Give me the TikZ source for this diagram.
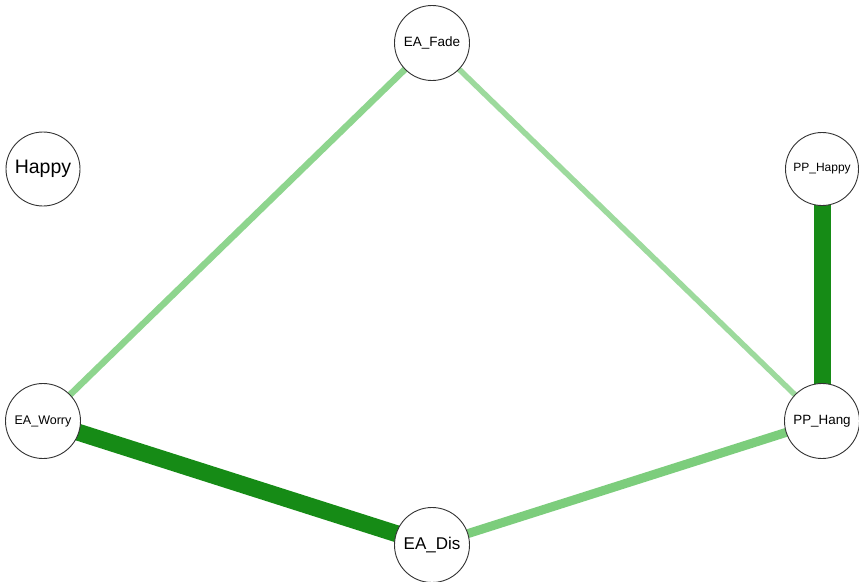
\documentclass[tikz,border=0pt]{standalone}
\usepackage{fontspec}
\setmainfont{Liberation Sans}
\begin{document}
\begin{tikzpicture}[x=1pt,y=-1pt,
  vertex/.style={circle,draw=black!80,line width=0.9pt,fill=white,minimum size=75pt,inner sep=0pt,font=\fontsize{13.5}{15}\selectfont},
  edge/.style={line cap=butt},
  weak/.style={edge,draw=lightgreen,line width=6.5pt},
  mid/.style={edge,draw=midgreen,line width=9pt},
  strong/.style={edge,draw=darkgreen,line width=17pt}]
\definecolor{lightgreen}{HTML}{8ED58E}
\definecolor{palegreen}{HTML}{9DDA9D}
\definecolor{midgreen}{HTML}{7CCD7C}
\definecolor{darkgreen}{HTML}{168B16}
\useasboundingbox (0,0) rectangle (859,581);
\fill[white] (0,0) rectangle (859,581);
% node positions
\coordinate (pFade) at (432,43);
\coordinate (pHappy) at (43,169);
\coordinate (pPPHappy) at (822,169);
\coordinate (pWorry) at (43,421);
\coordinate (pHang) at (822,421);
\coordinate (pDis) at (432,545);
% edges
\draw[weak] (pFade) -- (pWorry);
\draw[weak,draw=palegreen,line width=5.5pt] (pFade) -- (pHang);
\draw[mid] (pDis) -- (pHang);
\draw[strong] (pWorry) -- (pDis);
\draw[strong] (pPPHappy) -- (pHang);
% nodes
\node[vertex] (Fade) at (pFade) {EA\_Fade};
\node[vertex,minimum size=74pt,font=\fontsize{19.5}{21}\selectfont] (Happy) at (pHappy) {Happy};
\node[vertex,minimum size=73pt,font=\fontsize{12}{14}\selectfont] (PPHappy) at (pPPHappy) {PP\_Happy};
\node[vertex,font=\fontsize{12.5}{14}\selectfont] (Worry) at (pWorry) {EA\_Worry};
\node[vertex,font=\fontsize{13.4}{15}\selectfont] (Hang) at (pHang) {PP\_Hang};
\node[vertex,font=\fontsize{17}{19}\selectfont] (Dis) at (pDis) {EA\_Dis};
\end{tikzpicture}
\end{document}
